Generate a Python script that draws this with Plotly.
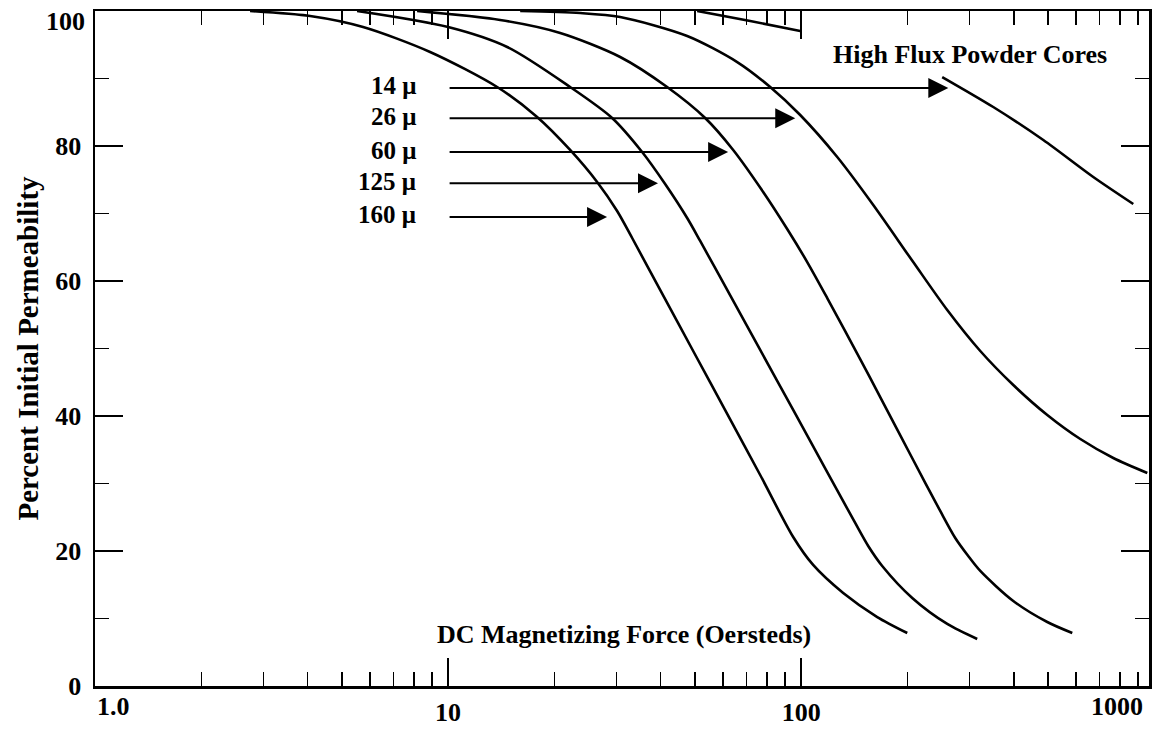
import numpy as np
import plotly.graph_objects as go

FONT = "Liberation Serif, Times New Roman, serif"

# ---- data: DC magnetizing force (Oe) vs % initial permeability
force_160 = [2.749, 4.066, 5.743, 8.892, 13.77, 17.87, 22.16, 26.43, 30.11, 33.21, 39.86, 49.44, 61.72, 76.54, 94.91, 108.1, 131.5, 164.2, 199.7]
perm_160 = [100, 99.26, 97.63, 93.93, 88.74, 84.30, 79.41, 74.67, 70.37, 66.37, 58.67, 49.63, 40.30, 31.26, 22.07, 17.93, 13.78, 10.22, 7.85]

force_125 = [5.524, 10.0, 14.70, 22.16, 29.14, 35.44, 41.18, 47.54, 51.75, 61.72, 76.54, 94.91, 118.5, 142.2, 154.8, 169.6, 206.3, 259.2, 315.1]
perm_125 = [100, 97.63, 94.67, 88.74, 84.15, 79.11, 74.37, 69.33, 65.93, 58.67, 49.78, 40.89, 31.70, 24.15, 20.74, 17.78, 13.04, 9.19, 6.96]

force_60 = [8.171, 14.04, 20.77, 30.71, 41.72, 53.46, 64.18, 78.05, 91.27, 104.0, 118.5, 146.9, 167.4, 207.6, 247.6, 273.1, 297.2, 321.5, 398.7, 497.6, 585.8]
perm_60 = [100, 98.67, 96.74, 93.19, 88.74, 84.15, 79.41, 73.19, 67.70, 62.81, 57.48, 48.44, 42.81, 33.48, 25.93, 21.93, 19.26, 17.04, 12.59, 9.48, 7.85]

force_26 = [16.0, 23.66, 30.71, 47.54, 65.88, 81.70, 99.36, 126.5, 160.0, 207.6, 259.2, 321.5, 398.7, 497.6, 617.2, 765.4, 955.4]
perm_26 = [100, 99.70, 99.11, 96.30, 92.44, 88.74, 84.59, 78.37, 71.26, 62.81, 55.70, 49.63, 44.59, 40.15, 36.59, 33.78, 31.56]

# 14 u curve is interrupted behind the "High Flux Powder Cores" caption
force_14 = [50.75, 71.72, 99.36, None, 250.8, 349.9, 484.9, 671.7, 871.9]
perm_14 = [100, 98.52, 97.04, None, 90.22, 85.78, 80.89, 75.41, 71.41]

# ---- arrow call-outs
labels = ["14 \u03bc", "26 \u03bc", "60 \u03bc", "125 \u03bc", "160 \u03bc"]
arrow_perm = [88.6, 84.1, 79.1, 74.5, 69.5]
arrow_tail_force = [10, 10, 10, 10, 10]
arrow_tip_force = [261, 96.2, 62.1, 39.3, 28.2]
label_force = 8.2

# ---- axes ticks
x_major = [1, 10, 100]
x_major_text = ["", "10", "100"]
x_minor = [2, 3, 4, 5, 6, 7, 8, 9, 20, 30, 40, 50, 60, 70, 80, 90, 200, 300, 400, 500, 600, 700, 800, 900]
y_major = [0, 20, 40, 60, 80, 100]
y_major_text = ["0", "20", "40", "60", "80", ""]
y_minor = [10, 30, 50, 70, 90]

fig = go.Figure()
for fx, py in [(force_160, perm_160), (force_125, perm_125), (force_60, perm_60),
               (force_26, perm_26), (force_14, perm_14)]:
    fig.add_trace(go.Scatter(x=fx, y=py, mode="lines", connectgaps=False,
                             line=dict(color="black", width=2.6, shape="spline", smoothing=0.8),
                             hoverinfo="skip"))

annotations = []
for lab, yv, tail, tip in zip(labels, arrow_perm, arrow_tail_force, arrow_tip_force):
    annotations.append(dict(x=np.log10(tip), y=yv, ax=np.log10(tail), ay=yv,
                            xref="x", yref="y", axref="x", ayref="y", text="",
                            showarrow=True, arrowhead=2, arrowsize=2.0, arrowwidth=2,
                            arrowcolor="black", standoff=0))
    annotations.append(dict(x=np.log10(label_force), y=yv, xref="x", yref="y",
                            text=lab, showarrow=False, xanchor="right", yanchor="middle",
                            yshift=2, font=dict(family=FONT, size=25, color="black", weight="bold")))

annotations.append(dict(x=0.83, y=0.935, xref="paper", yref="paper",
                        text="High Flux Powder Cores", showarrow=False,
                        xanchor="center", yanchor="middle",
                        font=dict(family=FONT, size=26, color="black", weight="bold")))
annotations.append(dict(x=0.502, y=0.076, xref="paper", yref="paper",
                        text="DC Magnetizing Force (Oersteds)", showarrow=False,
                        xanchor="center", yanchor="middle",
                        font=dict(family=FONT, size=26, color="black", weight="bold")))
# outermost tick labels sit inside the frame in the original drawing
annotations.append(dict(x=0.0, y=0, xref="paper", yref="paper", text="1.0",
                        showarrow=False, xanchor="left", yanchor="top", yshift=-4,
                        font=dict(family=FONT, size=26, color="black", weight="bold")))
annotations.append(dict(x=0.97, y=0, xref="paper", yref="paper", text="1000",
                        showarrow=False, xanchor="center", yanchor="top", yshift=-4,
                        font=dict(family=FONT, size=26, color="black", weight="bold")))
annotations.append(dict(x=-0.0075, y=0.985, xref="paper", yref="paper", text="100",
                        showarrow=False, xanchor="right", yanchor="middle",
                        font=dict(family=FONT, size=26, color="black", weight="bold")))

fig.update_layout(
    width=1156, height=732,
    margin=dict(l=95, r=7, t=11, b=46, autoexpand=False),
    plot_bgcolor="white", paper_bgcolor="white",
    showlegend=False,
    font=dict(family=FONT, size=26, color="black"),
    annotations=annotations,
)

fig.update_xaxes(
    type="log", range=[0, 2.985], automargin=False,
    showline=True, linewidth=2.5, linecolor="black", mirror="allticks",
    ticks="inside", ticklen=28, tickwidth=1.5, tickcolor="black",
    tickvals=x_major, ticktext=x_major_text,
    tickfont=dict(family=FONT, size=26, color="black", weight="bold"),
    ticklabelstandoff=1, ticklabeloverflow="allow",
    minor=dict(tickvals=x_minor, ticks="inside", ticklen=14, tickwidth=1.5,
               tickcolor="black", showgrid=False),
    showgrid=False, zeroline=False,
)
fig.update_yaxes(
    range=[0, 100], automargin=False,
    showline=True, linewidth=2.5, linecolor="black", mirror="allticks",
    ticks="inside", ticklen=28, tickwidth=1.5, tickcolor="black",
    tickvals=y_major, ticktext=y_major_text,
    tickfont=dict(family=FONT, size=26, color="black", weight="bold"),
    ticklabelstandoff=6, ticklabeloverflow="allow",
    minor=dict(tickvals=y_minor, ticks="inside", ticklen=14, tickwidth=1.5,
               tickcolor="black", showgrid=False),
    showgrid=False, zeroline=False,
    title=dict(text="Percent Initial Permeability", standoff=8,
               font=dict(family=FONT, size=29, color="black", weight="bold")),
)

fig.write_html("out.html",
               config={"staticPlot": True, "displayModeBar": False},
               post_script="document.body.style.margin='0px';document.body.style.overflow='hidden';")
